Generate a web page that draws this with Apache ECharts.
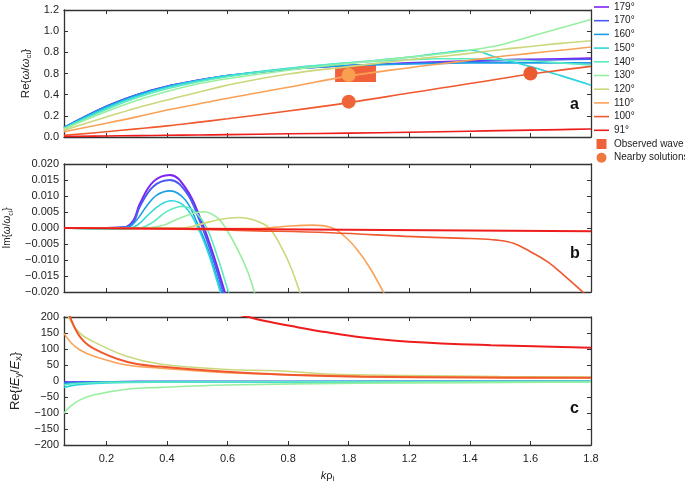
<!DOCTYPE html>
<html>
<head>
<meta charset="utf-8">
<script src="https://cdn.jsdelivr.net/npm/echarts@6/dist/echarts.min.js"></script>
<style>
html, body { margin: 0; padding: 0; background: #fff; }
#main { width: 685px; height: 484px; }
</style>
</head>
<body>
<div id="main"></div>
<script>
// angles and colours (rainbow map, 179° -> 91°)
const angles = ['179°', '170°', '160°', '150°', '140°', '130°', '120°', '110°', '100°', '91°'];
const colors = ['#7f22f5', '#4a5cf0', '#1a9fe6', '#2cd6dc', '#5ceac0', '#98ef9f', '#ccd77c', '#f9a257', '#f0582e', '#ee1c1c'];

// x ticks (labels copied as printed)
const xTicks = [0.2, 0.4, 0.6, 0.8, 1.0, 1.2, 1.4, 1.6, 1.8];
const xTickLabels = ['0.2', '0.4', '0.6', '0.8', '1.8', '1.2', '1.4', '1.6', '1.8'];
const aTickLabels = ['0.0', '0.2', '0.4', '0.8', '0.8', '1.0', '1.2'];
const bTickLabels = ['−0.020', '−0.015', '−0.010', '−0.005', '0.000', '0.005', '0.010', '0.015', '0.020'];
const cTickLabels = ['−200', '−150', '−100', '−50', '0', '50', '100', '150', '200'];

// panel a: Re(omega/omega_ci)
const xa = [0.06, 0.2, 0.3, 0.4, 0.5, 0.6, 0.8, 1.0, 1.2, 1.3, 1.4, 1.5, 1.6, 1.7, 1.8];
const a179 = [0.09, 0.29, 0.40, 0.48, 0.535, 0.58, 0.64, 0.675, 0.70, 0.71, 0.72, 0.73, 0.735, 0.74, 0.745];
const a170 = [0.09, 0.29, 0.40, 0.48, 0.535, 0.58, 0.64, 0.675, 0.695, 0.705, 0.715, 0.72, 0.725, 0.73, 0.735];
const a160 = [0.09, 0.285, 0.395, 0.475, 0.53, 0.575, 0.64, 0.675, 0.69, 0.695, 0.70, 0.70, 0.70, 0.70, 0.70];
const a150 = [0.085, 0.275, 0.385, 0.47, 0.53, 0.58, 0.65, 0.70, 0.755, 0.79, 0.82, 0.74, 0.665, 0.58, 0.49];
const a140 = [0.08, 0.26, 0.37, 0.455, 0.52, 0.57, 0.645, 0.70, 0.73, 0.74, 0.74, 0.73, 0.72, 0.70, 0.68];
const a130 = [0.075, 0.24, 0.345, 0.43, 0.50, 0.55, 0.63, 0.695, 0.755, 0.785, 0.82, 0.87, 0.95, 1.03, 1.11];
const a120 = [0.065, 0.19, 0.275, 0.35, 0.42, 0.49, 0.595, 0.665, 0.73, 0.76, 0.79, 0.825, 0.855, 0.885, 0.91];
const a110 = [0.05, 0.13, 0.19, 0.255, 0.31, 0.366, 0.47, 0.575, 0.655, 0.69, 0.725, 0.76, 0.79, 0.82, 0.85];
const a100 = [0.015, 0.05, 0.077, 0.105, 0.138, 0.172, 0.245, 0.325, 0.415, 0.46, 0.505, 0.55, 0.595, 0.632, 0.667];
const a91 = [0.005, 0.01, 0.013, 0.016, 0.019, 0.022, 0.03, 0.037, 0.045, 0.05, 0.055, 0.06, 0.065, 0.07, 0.075];

// observed wave box [x0, x1] / [y0, y1], nearby solutions
const obsX = [0.955, 1.09];
const obsY = [0.52, 0.68];
const nearX = [1.0, 1.0, 1.6];
const nearY = [0.586, 0.334, 0.6];
const nearColors = ['#f8a050', '#f0643a', '#ec5a30'];

// panel b: Im(omega/omega_ci)
const b179 = [[0.06,0],[0.2,0],[0.26,0.0002],[0.29,0.0025],[0.31,0.0075],[0.355,0.0145],[0.41,0.0166],[0.465,0.012],[0.51,0.003],[0.545,-0.006],[0.575,-0.015],[0.6,-0.023]];
const b170 = [[0.06,0],[0.2,0],[0.26,0.0002],[0.29,0.002],[0.31,0.0066],[0.355,0.013],[0.41,0.015],[0.465,0.011],[0.505,0.003],[0.54,-0.006],[0.57,-0.015],[0.595,-0.023]];
const b160 = [[0.06,0],[0.2,0],[0.27,0.0002],[0.30,0.0025],[0.33,0.0065],[0.365,0.0102],[0.41,0.0116],[0.46,0.0088],[0.50,0.0015],[0.535,-0.0065],[0.565,-0.0155],[0.59,-0.023]];
const b150 = [[0.06,0],[0.15,-0.0003],[0.25,-0.0004],[0.3,0.0008],[0.34,0.0043],[0.38,0.0074],[0.415,0.0085],[0.46,0.0066],[0.5,0.0005],[0.535,-0.0075],[0.565,-0.0165],[0.585,-0.023]];
const b140 = [[0.06,0],[0.2,-0.0003],[0.3,-0.0002],[0.35,0.0016],[0.4,0.0052],[0.45,0.0067],[0.49,0.0053],[0.53,0.0002],[0.565,-0.0085],[0.59,-0.016],[0.612,-0.023]];
const b130 = [[0.06,0],[0.3,0],[0.38,0.0006],[0.44,0.003],[0.52,0.0051],[0.565,0.0033],[0.6,-0.001],[0.64,-0.008],[0.67,-0.0145],[0.697,-0.023]];
const b120 = [[0.06,0],[0.45,0],[0.5,0.0009],[0.57,0.0026],[0.64,0.0033],[0.69,0.0024],[0.735,0.0002],[0.775,-0.0055],[0.81,-0.0125],[0.845,-0.022]];
const b110 = [[0.06,0],[0.5,-0.0002],[0.7,-0.0002],[0.78,0.0004],[0.88,0.0009],[0.94,0.0002],[0.985,-0.0025],[1.03,-0.007],[1.07,-0.0125],[1.12,-0.021]];
const b100 = [[0.06,0],[0.4,-0.0003],[0.7,-0.0009],[0.94,-0.0015],[1.215,-0.0027],[1.4,-0.0033],[1.49,-0.0038],[1.544,-0.0048],[1.6,-0.0074],[1.656,-0.0105],[1.71,-0.0147],[1.766,-0.0194],[1.8,-0.0225]];
const b91 = [[0.06,0],[1.8,-0.001]];

// panel c: Re(iEy/Ex)
const c179 = [[0.06,-3],[0.3,-2],[1.8,-1]];
const c170 = [[0.06,-4],[0.3,-2],[1.8,-1]];
const c160 = [[0.06,-8],[0.15,-4],[0.4,-2],[1.8,-1]];
const c150 = [[0.06,-20],[0.1,-12],[0.2,-6],[0.4,-4],[1.0,-3],[1.8,-2]];
const c140 = [[0.06,-13],[0.1,-8],[0.2,-4],[0.4,-3],[1.0,-2],[1.8,-1]];
const c130 = [[0.06,-101],[0.08,-80],[0.113,-59],[0.157,-44],[0.267,-26],[0.377,-20],[0.6,-12.5],[1.04,-7],[1.4,-5],[1.8,-3]];
const c120 = [[0.06,250],[0.075,200],[0.113,149],[0.157,123],[0.267,77],[0.377,53],[0.6,36],[0.76,32],[0.93,22],[1.2,17],[1.5,14],[1.8,12]];
const c110 = [[0.06,149],[0.085,118],[0.113,97],[0.157,78],[0.267,50],[0.377,40],[0.6,26],[0.817,19],[1.04,15.5],[1.4,12],[1.8,10]];
const c100 = [[0.06,260],[0.08,200],[0.113,138],[0.157,102],[0.267,60],[0.377,45],[0.6,29],[0.817,19],[1.04,13.5],[1.4,11],[1.8,10]];
const c91 = [[0.6,215],[0.66,202],[0.72,188],[0.82,170],[0.93,152],[1.04,137],[1.2,123],[1.47,112],[1.8,104]];

const panelA = [a179, a170, a160, a150, a140, a130, a120, a110, a100, a91];
const panelB = [b179, b170, b160, b150, b140, b130, b120, b110, b100, b91];
const panelC = [c179, c170, c160, c150, c140, c130, c120, c110, c100, c91];

var myChart = echarts.init(document.getElementById('main'));
const font = "'Liberation Sans', Arial, sans-serif";
const axisColor = '#333';

const grids = [
    { left: 64, width: 527, top: 10, height: 127, containLabel: false, outerBoundsMode: 'none' },
    { left: 64, width: 527, top: 164, height: 128, containLabel: false, outerBoundsMode: 'none' },
    { left: 64, width: 527, top: 317, height: 128, containLabel: false, outerBoundsMode: 'none' }
];
const yRanges = [
    { min: 0, max: 1.2, interval: 0.2, labels: aTickLabels },
    { min: -0.02, max: 0.02, interval: 0.005, labels: bTickLabels },
    { min: -200, max: 200, interval: 50, labels: cTickLabels }
];
function subRich(size) {
    return {
        i: { fontStyle: 'italic', fontSize: size, lineHeight: size + 3, fontFamily: font, color: '#222' },
        n: { fontSize: size, lineHeight: size + 3, fontFamily: font, color: '#222' },
        s: { fontSize: Math.round(size * 0.72), lineHeight: Math.round(size * 0.72), verticalAlign: 'bottom', fontFamily: font, color: '#222' }
    };
}
const yNames = [
    '{n|Re\{}{i|ω}{n|/}{i|ω}{s|ci}}',
    '{n|Im\{}{i|ω}{n|/}{i|ω}{s|ci}}',
    '{n|Re\{}{i|iE}{s|y}{n|/}{i|E}{s|x}}'
];
const yNameSizes = [11.5, 10, 13];
const yNameGaps = [30, 41, 34];

const xAxis = [];
const yAxis = [];
for (let g = 0; g < 3; g++) {
    const tick = { show: true, inside: true, length: 4, customValues: xTicks, lineStyle: { color: axisColor } };
    xAxis.push({
        type: 'value', gridIndex: g, min: 0.06, max: 1.8, position: 'bottom',
        axisLine: { show: true, onZero: false, lineStyle: { color: axisColor, width: 1.3 } },
        axisTick: tick,
        splitLine: { show: false },
        axisLabel: {
            show: g === 2, customValues: xTicks, margin: 8, fontSize: 11, fontFamily: font, color: '#222',
            formatter: function (v) { return xTickLabels[Math.round((v - 0.2) / 0.2)]; }
        },
        name: g === 2 ? '{i|k}{n|ρ}{s|i}' : '',
        nameLocation: 'middle', nameGap: 24,
        nameTextStyle: { fontSize: 11, fontFamily: font, color: '#222', lineHeight: 14, rich: subRich(11) }
    });
    xAxis.push({
        type: 'value', gridIndex: g, min: 0.06, max: 1.8, position: 'top',
        axisLine: { show: true, onZero: false, lineStyle: { color: axisColor, width: 1.3 } },
        axisTick: tick, splitLine: { show: false }, axisLabel: { show: false }
    });
    const r = yRanges[g];
    const ytick = { show: true, inside: true, length: 4, lineStyle: { color: axisColor } };
    yAxis.push({
        type: 'value', gridIndex: g, min: r.min, max: r.max, interval: r.interval, position: 'left',
        axisLine: { show: true, onZero: false, lineStyle: { color: axisColor, width: 1.3 } },
        axisTick: ytick, splitLine: { show: false },
        axisLabel: {
            margin: 5, fontSize: 11, fontFamily: font, color: '#222',
            formatter: function (v) { return r.labels[Math.round((v - r.min) / r.interval)]; }
        },
        name: yNames[g], nameLocation: 'middle', nameRotate: 90, nameGap: yNameGaps[g],
        nameTextStyle: { fontSize: yNameSizes[g], fontFamily: font, color: '#222', lineHeight: yNameSizes[g] + 3, rich: subRich(yNameSizes[g]) }
    });
    yAxis.push({
        type: 'value', gridIndex: g, min: r.min, max: r.max, interval: r.interval, position: 'right',
        axisLine: { show: true, onZero: false, lineStyle: { color: axisColor, width: 1.3 } },
        axisTick: ytick, splitLine: { show: false }, axisLabel: { show: false }
    });
}

const series = [];
angles.forEach(function (name, k) {
    series.push({
        name: name, type: 'line', xAxisIndex: 0, yAxisIndex: 0,
        data: xa.map(function (x, j) { return [x, panelA[k][j]]; }),
        smooth: 0.4, showSymbol: false, symbol: 'none',
        lineStyle: { width: 1.6, color: colors[k] }, itemStyle: { color: colors[k] }
    });
    series.push({
        name: name, type: 'line', xAxisIndex: 2, yAxisIndex: 2,
        data: panelB[k], smooth: 0.4, showSymbol: false, symbol: 'none',
        lineStyle: { width: k < 2 || k === 9 ? 2 : 1.6, color: colors[k] }, itemStyle: { color: colors[k] }
    });
    series.push({
        name: name, type: 'line', xAxisIndex: 4, yAxisIndex: 4,
        data: panelC[k], smooth: 0.4, showSymbol: false, symbol: 'none',
        lineStyle: { width: k === 9 || k === 8 ? 2 : 1.6, color: colors[k] }, itemStyle: { color: colors[k] }
    });
});

series.push({
    name: 'Observed wave', type: 'custom', xAxisIndex: 0, yAxisIndex: 0,
    itemStyle: { color: '#f0603a' },
    data: [[obsX[0], obsX[1], obsY[0], obsY[1]]],
    renderItem: function (params, api) {
        const p0 = api.coord([api.value(0), api.value(3)]);
        const p1 = api.coord([api.value(1), api.value(2)]);
        return {
            type: 'rect',
            shape: { x: p0[0], y: p0[1], width: p1[0] - p0[0], height: p1[1] - p0[1] },
            style: { fill: '#f0603a' }
        };
    },
    z: 3
});
series.push({
    name: 'Nearby solutions', type: 'scatter', xAxisIndex: 0, yAxisIndex: 0,
    symbolSize: 14, itemStyle: { color: '#f07840', opacity: 1 },
    data: nearX.map(function (x, j) { return { value: [x, nearY[j]], itemStyle: { color: nearColors[j] } }; }),
    z: 4
});

const lineIcon = 'path://M0,0h15v1.6h-15z';
const legendData = angles.map(function (a) { return { name: a, icon: lineIcon }; });
legendData.push({ name: 'Observed wave', icon: 'path://M0,0h10v10h-10z' });
legendData.push({ name: 'Nearby solutions', icon: 'path://M5,0a5,5 0 1,0 0.01,0z' });

var option = {
    animation: false,
    backgroundColor: '#fff',
    grid: grids,
    xAxis: xAxis,
    yAxis: yAxis,
    legend: {
        orient: 'vertical', left: 594, top: 2, padding: 0,
        itemWidth: 15, itemHeight: 10, itemGap: 3.7,
        textStyle: { fontSize: 10, fontFamily: font, color: '#222' },
        data: legendData
    },
    graphic: [
        { type: 'text', left: 570, top: 97, style: { text: 'a', font: 'bold 16px ' + font, fill: '#111' } },
        { type: 'text', left: 570, top: 246, style: { text: 'b', font: 'bold 16px ' + font, fill: '#111' } },
        { type: 'text', left: 570, top: 401, style: { text: 'c', font: 'bold 16px ' + font, fill: '#111' } }
    ],
    series: series
};
myChart.setOption(option);
window.addEventListener('resize', function () {
    myChart.resize();
});
</script>
</body>
</html>
